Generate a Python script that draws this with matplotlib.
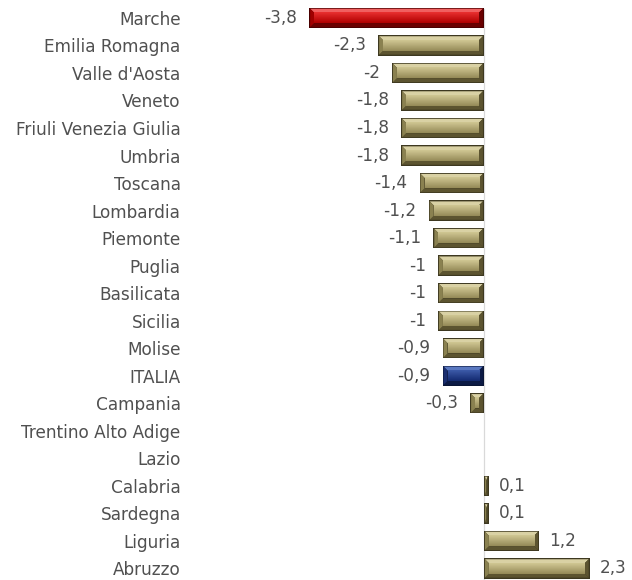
import numpy as np
import matplotlib
matplotlib.use('Agg')
from matplotlib import pyplot as plt
from matplotlib.patches import Polygon, Rectangle
from matplotlib.colors import LinearSegmentedColormap

regions = ['Marche', 'Emilia Romagna', "Valle d'Aosta", 'Veneto', 'Friuli Venezia Giulia',
           'Umbria', 'Toscana', 'Lombardia', 'Piemonte', 'Puglia', 'Basilicata', 'Sicilia',
           'Molise', 'ITALIA', 'Campania', 'Trentino Alto Adige', 'Lazio', 'Calabria',
           'Sardegna', 'Liguria', 'Abruzzo']
values = [-3.8, -2.3, -2.0, -1.8, -1.8, -1.8, -1.4, -1.2, -1.1, -1.0, -1.0, -1.0,
          -0.9, -0.9, -0.3, np.nan, np.nan, 0.1, 0.1, 1.2, 2.3]

# colour schemes: (outline, top bevel, bottom bevel, side bevel, face top, face bottom)
GOLD = ('#3d3820', '#d9d1a4', '#5c5430', '#8a8150', '#d0c793', '#958a58')
RED = ('#4a0000', '#f06060', '#6a0000', '#a00000', '#e83030', '#b00000')
BLUE = ('#0a1535', '#5a78c0', '#0c1a45', '#1a2e70', '#3c5aa8', '#132a70')
TXT = '#505050'
FS = 12.2


def scheme(name):
    if name == 'Marche':
        return RED
    if name == 'ITALIA':
        return BLUE
    return GOLD


fig = plt.figure(figsize=(6.32, 5.8), dpi=100)
ax = fig.add_axes([196 / 632, 0, 436 / 632, 1])

px_x = 46.0   # pixels per unit along x
px_y = 27.6   # pixels per row
h = 0.74
bev = 4.0

ax.axvline(0, color='#d9d9d9', lw=0.9, zorder=1, ymin=0, ymax=0.985)

for i, (name, v) in enumerate(zip(regions, values)):
    if np.isnan(v):
        continue
    outline, top, bot, side, f1, f2 = scheme(name)
    x0, x1 = min(0, v), max(0, v)
    y0, y1 = i - h / 2, i + h / 2
    bx = min(bev / px_x, (x1 - x0) / 2)
    by = bev / px_y
    ax.add_patch(Rectangle((x0, y0), x1 - x0, h, facecolor=outline, edgecolor='none', zorder=2))
    o = 1.0 / px_x
    oy = 1.0 / px_y
    ax0, ax1, ay0, ay1 = x0 + o, x1 - o, y0 + oy, y1 - oy
    if ax1 <= ax0:
        ax0, ax1 = x0, x1
    ix0, ix1, iy0, iy1 = ax0 + bx, ax1 - bx, ay0 + by, ay1 - by
    if ix1 < ix0:
        ix0 = ix1 = (ax0 + ax1) / 2
    ax.add_patch(Polygon([(ax0, ay0), (ax1, ay0), (ix1, iy0), (ix0, iy0)], facecolor=top, edgecolor='none', zorder=3))
    ax.add_patch(Polygon([(ax0, ay1), (ax1, ay1), (ix1, iy1), (ix0, iy1)], facecolor=bot, edgecolor='none', zorder=3))
    ax.add_patch(Polygon([(ax0, ay0), (ix0, iy0), (ix0, iy1), (ax0, ay1)], facecolor=side, edgecolor='none', zorder=3))
    ax.add_patch(Polygon([(ax1, ay0), (ix1, iy0), (ix1, iy1), (ax1, ay1)], facecolor=bot, edgecolor='none', zorder=3))
    if ix1 > ix0:
        cmap = LinearSegmentedColormap.from_list('f', [f1, f2])
        grad = np.linspace(0, 1, 32).reshape(-1, 1)
        ax.imshow(grad, cmap=cmap, aspect='auto', extent=(ix0, ix1, iy1, iy0),
                  interpolation='bilinear', zorder=3)
    label = f'{v:g}'.replace('.', ',')
    if v < 0:
        ax.text(x0 - 12 / px_x, i, label, ha='right', va='center', fontsize=FS, color=TXT)
    else:
        ax.text(x1 + 10 / px_x, i, label, ha='left', va='center', fontsize=FS, color=TXT)

ax.set_xlim(-6.26, 3.22)
ax.set_ylim(20.42, -0.65)
ax.set_yticks(range(len(regions)))
ax.set_yticklabels(regions, fontsize=FS, color=TXT)
ax.tick_params(axis='y', length=0, pad=11)
ax.set_xticks([])
for s in ax.spines.values():
    s.set_visible(False)

fig.savefig('out.png', dpi=100)
